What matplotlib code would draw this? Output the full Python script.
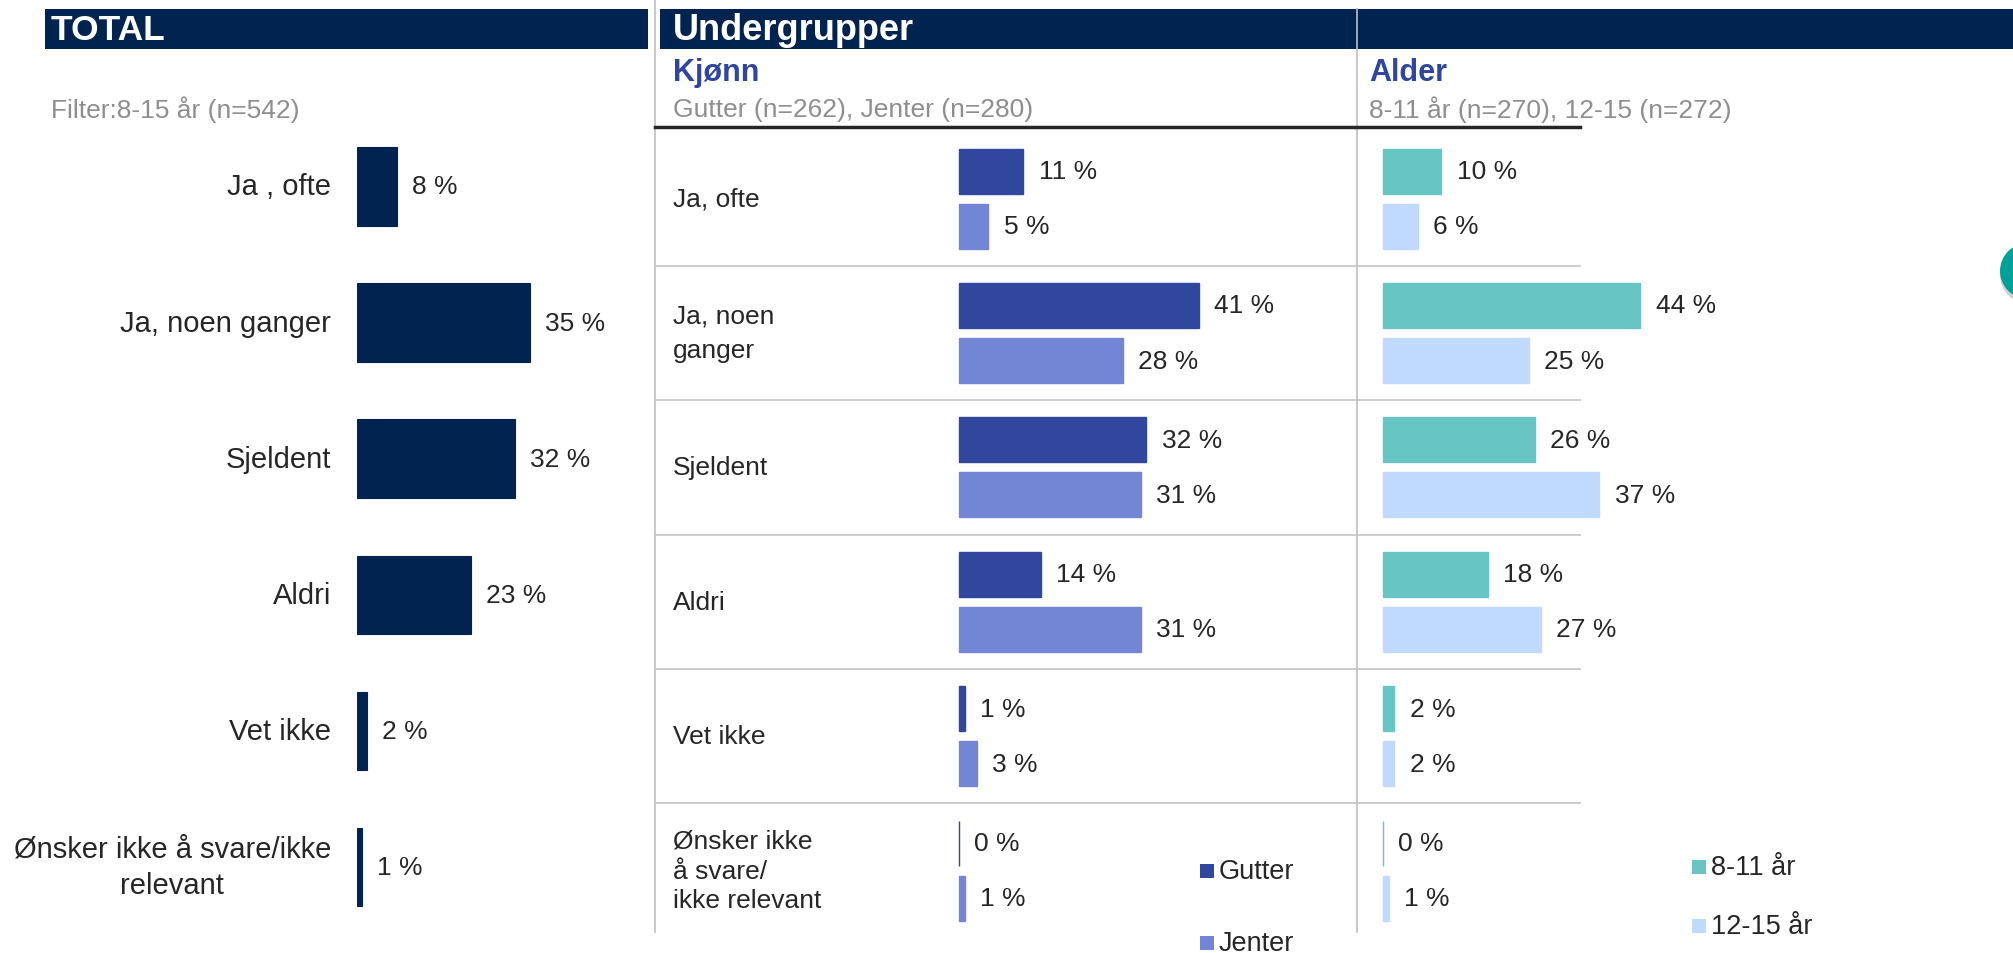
import matplotlib
matplotlib.use("Agg")
import matplotlib.pyplot as plt
from matplotlib.patches import Rectangle, Circle
from matplotlib.lines import Line2D

plt.rcParams['font.family'] = ['Liberation Sans', 'DejaVu Sans']

# data
total_cats = ["Ja , ofte", "Ja, noen ganger", "Sjeldent", "Aldri", "Vet ikke",
              "Ønsker ikke å svare/ikke\nrelevant"]
total_vals = [8, 35, 32, 23, 2, 1]

group_cats = ["Ja, ofte", "Ja, noen\nganger", "Sjeldent", "Aldri", "Vet ikke",
              "Ønsker ikke\nå svare/\nikke relevant"]
gutter = [11, 41, 32, 14, 1, 0]
jenter = [5, 28, 31, 31, 3, 1]
age_8_11 = [10, 44, 26, 18, 2, 0]
age_12_15 = [6, 25, 37, 27, 2, 1]

NAVY = "#00244f"
C_GUTTER = "#31479d"
C_JENTER = "#7286d5"
C_YOUNG = "#67c5c3"
C_OLD = "#bfdafc"
TXT = "#262626"
GREY = "#8e8e8e"
TITLE_BLUE = "#2f459e"
SEP = "#c8c8c8"

W, H = 2013, 954
fig = plt.figure(figsize=(W / 100, H / 100), dpi=100)


def fx(x):
    return x / W


def fy(y):
    return 1 - y / H


def rect(x0, y0, x1, y1, color):
    fig.patches.append(Rectangle((fx(x0), fy(y1)), fx(x1 - x0), (y1 - y0) / H,
                                 transform=fig.transFigure, color=color, lw=0))


def vline(x, y0, y1, color, lw=1.2):
    fig.lines.append(Line2D([fx(x), fx(x)], [fy(y0), fy(y1)],
                            transform=fig.transFigure, color=color, lw=lw))


def hline(x0, x1, y, color, lw=1.2):
    fig.lines.append(Line2D([fx(x0), fx(x1)], [fy(y), fy(y)],
                            transform=fig.transFigure, color=color, lw=lw))


# header bands
rect(45, 10, 648, 50, NAVY)
rect(660, 10, 2013, 50, NAVY)
vline(655, 0, 933, "#bfbfbf")
vline(1357, 10, 933, "#bfbfbf")
hline(655, 1580, 128, "#262626", lw=2.5)

fig.text(fx(51), fy(31), "TOTAL", color="white", fontsize=25.5, fontweight="bold", va="center")
fig.text(fx(673), fy(31), "Undergrupper", color="white", fontsize=26, fontweight="bold", va="center")
fig.text(fx(673), fy(73), "Kjønn", color=TITLE_BLUE, fontsize=22, fontweight="bold", va="center")
fig.text(fx(1369), fy(73), "Alder", color=TITLE_BLUE, fontsize=22, fontweight="bold", va="center")
fig.text(fx(51), fy(110), "Filter:8-15 år (n=542)", color=GREY, fontsize=19, va="center")
fig.text(fx(673), fy(110), "Gutter (n=262), Jenter (n=280)", color=GREY, fontsize=19, va="center")
fig.text(fx(1369), fy(110), "8-11 år (n=270), 12-15 (n=272)", color=GREY, fontsize=19, va="center")

# total panel
PX_TOT = 4.94
tot_top, tot_bot = 119.35, 935.95
ax_t = fig.add_axes([fx(357), fy(tot_bot), fx(100 * PX_TOT), (tot_bot - tot_top) / H])
ax_t.set_xlim(0, 100)
ax_t.set_ylim(5.5, -0.5)
ax_t.axis("off")
ypos = list(range(len(total_cats)))
ax_t.barh(ypos, total_vals, height=0.575, color=NAVY, edgecolor=NAVY, lw=0.8)
for y, v, c in zip(ypos, total_vals, total_cats):
    ax_t.annotate(f"{v} %", xy=(v, y), xytext=(11, 0), textcoords="offset points",
                  va="center", fontsize=19, color=TXT)
    ax_t.text(-26 / PX_TOT, y, c, ha="right", va="center", multialignment="center",
              fontsize=21, color=TXT, linespacing=1.4)

# subgroup panels
PX = 5.855
g_top, g_bot = 132.4, 938.8
off, bh = 0.205, 0.335

ax_k = fig.add_axes([fx(655), fy(g_bot), fx(1357 - 655), (g_bot - g_top) / H])
ax_k.set_xlim((655 - 959) / PX, (1357 - 959) / PX)
ax_a = fig.add_axes([fx(1357), fy(g_bot), fx(2013 - 1357), (g_bot - g_top) / H])
ax_a.set_xlim((1357 - 1382.7) / PX, (2013 - 1382.7) / PX)

for ax, s1, s2, c1, c2, xmax in [(ax_k, gutter, jenter, C_GUTTER, C_JENTER, 1.0),
                                 (ax_a, age_8_11, age_12_15, C_YOUNG, C_OLD, (1580 - 1357) / 656)]:
    ax.set_ylim(5.5, -0.5)
    ax.axis("off")
    ax.patch.set_alpha(0)
    ya = [y - off for y in ypos]
    yb = [y + off for y in ypos]
    ax.barh(ya, s1, height=bh, color=c1, edgecolor=c1, lw=1.0)
    ax.barh(yb, s2, height=bh, color=c2, edgecolor=c2, lw=1.0)
    for y, v in list(zip(ya, s1)) + list(zip(yb, s2)):
        ax.annotate(f"{v} %", xy=(v, y), xytext=(11, 0), textcoords="offset points",
                    va="center", fontsize=19, color=TXT)
    for i in range(len(ypos) - 1):
        ax.axhline(i + 0.5, xmin=0, xmax=xmax, color=SEP, lw=1.3)

for y, c in zip(ypos, group_cats):
    ls = 1.55 if c.count("\n") == 1 else 1.3
    ax_k.text((673 - 959) / PX, y, c, ha="left", va="center", fontsize=19, color=TXT,
              linespacing=ls)

# legends
for (sx, sy, col, lab) in [(1200, 872, C_GUTTER, "Gutter"), (1200, 944, C_JENTER, "Jenter"),
                           (1692, 868, C_YOUNG, "8-11 år"), (1692, 927, C_OLD, "12-15 år")]:
    rect(sx, sy - 7, sx + 14, sy + 7, col)
    fig.text(fx(sx + 19), fy(sy), lab, fontsize=19.5, color=TXT, va="center")

# decorative circle at right edge
fig.patches.append(Circle((2029, H - 276), 29, transform=None, color="#b0b0b0", alpha=0.6, lw=0))
fig.patches.append(Circle((2028, H - 272), 28, transform=None, color="#00a19a", lw=0))

fig.savefig("out.png", dpi=100)
